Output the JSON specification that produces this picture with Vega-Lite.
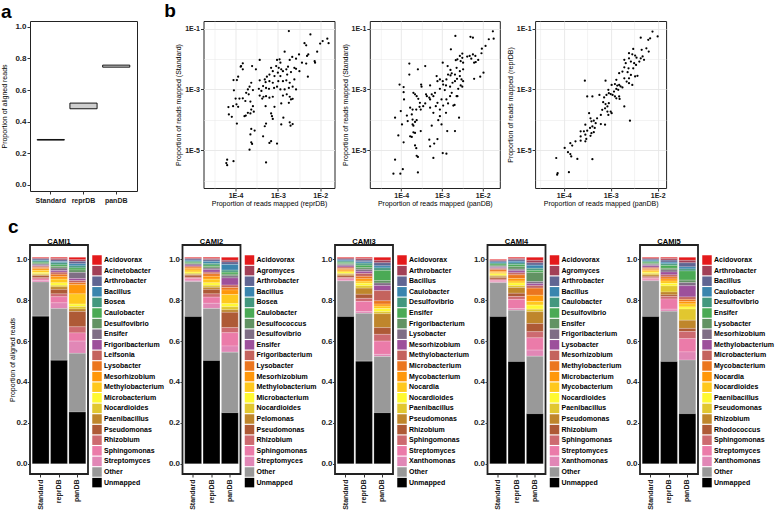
{
"$schema":"https://vega.github.io/schema/vega-lite/v6.json",
"background":"white",
"padding":{"left":0,"top":2,"right":0,"bottom":0},
"spacing":11,
"config":{
 "font":"Liberation Sans",
 "view":{"stroke":"#222","strokeWidth":1},
 "axis":{"labelFontSize":7,"labelFontWeight":"bold","labelColor":"#222","titleFontSize":7,"titleFontWeight":"normal","titleColor":"#000","tickColor":"#333","tickSize":3,"labelPadding":1,"titlePadding":3,"domain":false,"grid":false,"labelOverlap":false},
 "legend":{"title":null,"symbolType":"square","symbolSize":90,"symbolStrokeWidth":0,"labelFontSize":7,"labelFontWeight":"bold","labelColor":"#000","rowPadding":0.6,"offset":-6,"padding":10,"labelOffset":2,"labelLimit":200},
 "title":{"fontSize":19,"fontWeight":"bold","anchor":"start","frame":"bounds","offset":-0.5,"color":"#000"}
},
"datasets":{
 "box":[
  {"db":"Standard","q1":0.282,"med":0.284,"q3":0.286},
  {"db":"reprDB","q1":0.481,"med":0.490,"q3":0.517},
  {"db":"panDB","q1":0.745,"med":0.750,"q3":0.758}
 ],
 "b1":[
{"x":-2.74,"y":-1.08},{"x":-2.23,"y":-1.19},{"x":-1.83,"y":-1.33},{"x":-1.94,"y":-1.41},{"x":-1.80,"y":-1.48},{"x":-2.00,"y":-1.49},{"x":-2.37,"y":-1.48},{"x":-2.33,"y":-1.55},{"x":-2.07,"y":-1.76},{"x":-2.84,"y":-1.76},{"x":-2.50,"y":-1.85},{"x":-2.66,"y":-1.93},{"x":-2.72,"y":-2.03},{"x":-2.57,"y":-1.99},{"x":-2.43,"y":-2.12},{"x":-2.33,"y":-2.15},{"x":-2.31,"y":-1.90},{"x":-2.28,"y":-1.85},{"x":-2.13,"y":-2.07},{"x":-2.12,"y":-2.12},{"x":-3.02,"y":-2.03},{"x":-2.96,"y":-2.01},{"x":-2.94,"y":-2.12},{"x":-3.43,"y":-2.03},{"x":-3.83,"y":-2.14},{"x":-3.87,"y":-2.23},{"x":-3.83,"y":-2.34},{"x":-3.88,"y":-2.25},{"x":-3.61,"y":-2.23},{"x":-3.52,"y":-2.34},{"x":-3.16,"y":-2.29},{"x":-3.04,"y":-2.23},{"x":-2.98,"y":-2.29},{"x":-2.92,"y":-2.34},{"x":-2.88,"y":-2.40},{"x":-2.80,"y":-2.34},{"x":-2.76,"y":-2.25},{"x":-2.61,"y":-2.29},{"x":-2.57,"y":-2.32},{"x":-2.49,"y":-2.40},{"x":-3.12,"y":-2.40},{"x":-3.00,"y":-2.45},{"x":-2.94,"y":-2.56},{"x":-3.08,"y":-2.56},{"x":-3.20,"y":-2.51},{"x":-3.26,"y":-2.58},{"x":-2.69,"y":-2.43},{"x":-2.78,"y":-2.51},{"x":-2.29,"y":-2.58},{"x":-4.05,"y":-2.69},{"x":-3.94,"y":-2.58},{"x":-3.97,"y":-2.69},{"x":-3.43,"y":-2.70},{"x":-3.31,"y":-2.67},{"x":-3.29,"y":-2.76},{"x":-3.20,"y":-2.73},{"x":-3.12,"y":-2.78},{"x":-2.99,"y":-2.73},{"x":-2.88,"y":-2.73},{"x":-2.80,"y":-2.70},{"x":-2.72,"y":-2.78},{"x":-2.61,"y":-2.67},{"x":-3.63,"y":-2.78},{"x":-3.67,"y":-2.91},{"x":-3.71,"y":-3.00},{"x":-3.35,"y":-2.89},{"x":-3.28,"y":-2.95},{"x":-3.21,"y":-2.98},{"x":-3.09,"y":-2.95},{"x":-3.02,"y":-2.91},{"x":-2.94,"y":-3.00},{"x":-2.84,"y":-3.00},{"x":-2.74,"y":-2.95},{"x":-2.65,"y":-2.91},{"x":-2.57,"y":-3.00},{"x":-4.04,"y":-3.03},{"x":-4.00,"y":-3.30},{"x":-3.59,"y":-3.02},{"x":-3.45,"y":-2.98},{"x":-3.39,"y":-3.05},{"x":-3.75,"y":-3.11},{"x":-3.69,"y":-3.16},{"x":-3.83,"y":-3.29},{"x":-3.91,"y":-3.30},{"x":-3.77,"y":-3.38},{"x":-3.43,"y":-3.20},{"x":-3.34,"y":-3.24},{"x":-3.37,"y":-3.30},{"x":-3.28,"y":-3.22},{"x":-3.20,"y":-3.27},{"x":-3.12,"y":-3.24},{"x":-2.88,"y":-3.20},{"x":-2.79,"y":-3.16},{"x":-2.72,"y":-3.24},{"x":-2.69,"y":-3.33},{"x":-4.17,"y":-3.58},{"x":-4.06,"y":-3.55},{"x":-3.98,"y":-3.49},{"x":-3.94,"y":-3.57},{"x":-3.65,"y":-3.40},{"x":-3.59,"y":-3.55},{"x":-3.63,"y":-3.66},{"x":-3.65,"y":-3.79},{"x":-3.71,"y":-3.77},{"x":-3.76,"y":-3.86},{"x":-3.79,"y":-3.88},{"x":-3.57,"y":-3.73},{"x":-3.29,"y":-3.55},{"x":-3.08,"y":-3.57},{"x":-2.92,"y":-3.46},{"x":-2.74,"y":-3.44},{"x":-2.65,"y":-3.31},{"x":-4.16,"y":-3.82},{"x":-4.09,"y":-3.90},{"x":-3.97,"y":-4.12},{"x":-3.16,"y":-3.79},{"x":-3.14,"y":-3.88},{"x":-3.12,"y":-3.97},{"x":-2.87,"y":-3.93},{"x":-2.72,"y":-4.08},{"x":-2.65,"y":-4.14},{"x":-2.70,"y":-4.19},{"x":-2.92,"y":-4.15},{"x":-3.63,"y":-4.30},{"x":-3.55,"y":-4.35},{"x":-3.65,"y":-4.48},{"x":-3.28,"y":-4.12},{"x":-3.31,"y":-4.21},{"x":-3.35,"y":-4.54},{"x":-3.63,"y":-4.74},{"x":-3.61,"y":-4.79},{"x":-3.67,"y":-4.98},{"x":-3.20,"y":-4.76},{"x":-3.16,"y":-4.70},{"x":-3.02,"y":-4.78},{"x":-4.20,"y":-5.31},{"x":-4.22,"y":-5.42},{"x":-4.20,"y":-5.49},{"x":-4.05,"y":-5.36},{"x":-3.28,"y":-5.40}
 ],
 "b2":[
{"x":-1.75,"y":-1.09},{"x":-1.73,"y":-1.33},{"x":-1.85,"y":-1.35},{"x":-2.30,"y":-1.27},{"x":-2.24,"y":-1.30},{"x":-2.67,"y":-1.24},{"x":-1.93,"y":-1.57},{"x":-2.02,"y":-1.66},{"x":-2.03,"y":-1.81},{"x":-2.78,"y":-1.68},{"x":-2.50,"y":-1.82},{"x":-2.56,"y":-1.90},{"x":-2.50,"y":-1.96},{"x":-2.62,"y":-2.01},{"x":-2.66,"y":-2.04},{"x":-2.54,"y":-2.07},{"x":-2.48,"y":-2.12},{"x":-2.38,"y":-1.92},{"x":-2.32,"y":-1.90},{"x":-2.28,"y":-1.99},{"x":-2.24,"y":-1.85},{"x":-2.18,"y":-1.90},{"x":-2.21,"y":-2.12},{"x":-2.11,"y":-2.03},{"x":-2.17,"y":-2.10},{"x":-2.98,"y":-2.12},{"x":-2.86,"y":-2.23},{"x":-2.79,"y":-2.36},{"x":-2.76,"y":-2.47},{"x":-2.85,"y":-2.51},{"x":-2.89,"y":-2.67},{"x":-2.98,"y":-2.73},{"x":-3.05,"y":-2.67},{"x":-3.13,"y":-2.56},{"x":-3.11,"y":-2.73},{"x":-2.97,"y":-2.84},{"x":-3.05,"y":-2.98},{"x":-2.93,"y":-3.02},{"x":-2.90,"y":-2.87},{"x":-2.80,"y":-2.91},{"x":-2.74,"y":-2.78},{"x":-2.68,"y":-2.73},{"x":-2.63,"y":-2.65},{"x":-2.56,"y":-2.56},{"x":-2.52,"y":-2.67},{"x":-2.48,"y":-2.73},{"x":-2.54,"y":-2.87},{"x":-2.60,"y":-2.98},{"x":-2.62,"y":-3.22},{"x":-2.50,"y":-2.91},{"x":-3.80,"y":-2.15},{"x":-3.80,"y":-2.51},{"x":-3.59,"y":-2.34},{"x":-3.41,"y":-2.23},{"x":-1.98,"y":-2.45},{"x":-2.06,"y":-2.58},{"x":-2.21,"y":-2.65},{"x":-2.48,"y":-2.34},{"x":-2.56,"y":-2.40},{"x":-2.64,"y":-2.29},{"x":-2.68,"y":-2.51},{"x":-2.79,"y":-2.54},{"x":-4.04,"y":-2.84},{"x":-3.94,"y":-2.92},{"x":-3.93,"y":-3.33},{"x":-3.94,"y":-3.09},{"x":-4.01,"y":-3.71},{"x":-3.70,"y":-3.11},{"x":-3.66,"y":-3.16},{"x":-3.62,"y":-3.22},{"x":-3.51,"y":-2.84},{"x":-3.50,"y":-2.91},{"x":-3.58,"y":-3.31},{"x":-3.54,"y":-3.44},{"x":-3.55,"y":-3.57},{"x":-3.41,"y":-3.46},{"x":-3.37,"y":-3.22},{"x":-3.31,"y":-3.27},{"x":-3.29,"y":-3.33},{"x":-3.21,"y":-3.22},{"x":-3.25,"y":-3.16},{"x":-3.17,"y":-3.11},{"x":-3.29,"y":-2.87},{"x":-3.39,"y":-3.16},{"x":-3.78,"y":-3.60},{"x":-3.72,"y":-3.66},{"x":-3.74,"y":-3.82},{"x":-3.63,"y":-3.66},{"x":-3.52,"y":-3.66},{"x":-3.46,"y":-3.55},{"x":-3.29,"y":-3.60},{"x":-3.21,"y":-3.77},{"x":-3.15,"y":-3.55},{"x":-3.11,"y":-3.44},{"x":-3.05,"y":-3.66},{"x":-3.01,"y":-3.33},{"x":-2.97,"y":-3.53},{"x":-2.90,"y":-3.77},{"x":-2.89,"y":-3.33},{"x":-2.85,"y":-3.46},{"x":-2.80,"y":-3.22},{"x":-2.76,"y":-3.11},{"x":-2.64,"y":-3.22},{"x":-2.58,"y":-3.93},{"x":-2.72,"y":-3.53},{"x":-2.69,"y":-3.51},{"x":-3.05,"y":-3.88},{"x":-3.09,"y":-4.01},{"x":-4.15,"y":-3.93},{"x":-3.86,"y":-3.86},{"x":-3.84,"y":-4.04},{"x":-3.98,"y":-4.15},{"x":-4.07,"y":-4.51},{"x":-3.72,"y":-4.15},{"x":-3.70,"y":-4.19},{"x":-3.66,"y":-4.07},{"x":-3.62,"y":-4.01},{"x":-3.72,"y":-3.99},{"x":-3.94,"y":-4.74},{"x":-3.78,"y":-4.54},{"x":-3.74,"y":-4.56},{"x":-3.66,"y":-4.43},{"x":-3.70,"y":-4.41},{"x":-3.52,"y":-4.37},{"x":-3.25,"y":-4.19},{"x":-3.01,"y":-4.15},{"x":-2.87,"y":-4.37},{"x":-2.68,"y":-4.37},{"x":-3.11,"y":-4.63},{"x":-3.19,"y":-4.78},{"x":-2.98,"y":-5.09},{"x":-2.89,"y":-5.11},{"x":-3.21,"y":-5.25},{"x":-3.29,"y":-4.87},{"x":-3.31,"y":-4.65},{"x":-3.66,"y":-4.84},{"x":-3.63,"y":-4.93},{"x":-3.62,"y":-5.18},{"x":-3.59,"y":-5.22},{"x":-4.15,"y":-5.31},{"x":-3.96,"y":-5.62},{"x":-4.19,"y":-5.77},{"x":-4.02,"y":-5.77},{"x":-3.59,"y":-5.73}
 ],
 "b3":[
{"x":-2.11,"y":-1.09},{"x":-2.00,"y":-1.25},{"x":-2.16,"y":-1.31},{"x":-2.20,"y":-1.36},{"x":-2.36,"y":-1.29},{"x":-2.52,"y":-1.66},{"x":-2.24,"y":-1.64},{"x":-2.34,"y":-1.69},{"x":-2.19,"y":-1.75},{"x":-2.61,"y":-1.80},{"x":-2.54,"y":-1.84},{"x":-2.48,"y":-1.88},{"x":-2.45,"y":-1.95},{"x":-2.36,"y":-1.97},{"x":-2.32,"y":-1.91},{"x":-2.29,"y":-2.02},{"x":-2.39,"y":-2.08},{"x":-2.61,"y":-1.97},{"x":-2.71,"y":-2.02},{"x":-2.68,"y":-2.13},{"x":-2.57,"y":-2.08},{"x":-2.50,"y":-2.13},{"x":-2.46,"y":-2.19},{"x":-2.52,"y":-2.30},{"x":-2.62,"y":-2.30},{"x":-2.71,"y":-2.27},{"x":-2.75,"y":-2.41},{"x":-2.64,"y":-2.43},{"x":-2.57,"y":-2.52},{"x":-2.48,"y":-2.57},{"x":-2.43,"y":-2.55},{"x":-2.61,"y":-2.63},{"x":-2.66,"y":-2.74},{"x":-2.61,"y":-2.79},{"x":-2.54,"y":-2.85},{"x":-2.71,"y":-2.63},{"x":-2.82,"y":-2.46},{"x":-2.88,"y":-2.68},{"x":-3.11,"y":-2.71},{"x":-2.98,"y":-2.85},{"x":-2.91,"y":-2.82},{"x":-2.86,"y":-2.87},{"x":-2.82,"y":-2.85},{"x":-2.79,"y":-2.90},{"x":-2.75,"y":-2.93},{"x":-2.84,"y":-3.01},{"x":-2.88,"y":-2.98},{"x":-2.93,"y":-3.07},{"x":-2.96,"y":-3.18},{"x":-2.91,"y":-3.23},{"x":-2.82,"y":-3.23},{"x":-2.81,"y":-3.31},{"x":-2.88,"y":-3.29},{"x":-3.05,"y":-3.01},{"x":-3.04,"y":-3.12},{"x":-3.00,"y":-3.15},{"x":-3.09,"y":-3.18},{"x":-3.14,"y":-3.26},{"x":-3.16,"y":-3.42},{"x":-3.11,"y":-3.48},{"x":-3.04,"y":-3.45},{"x":-3.07,"y":-3.56},{"x":-3.12,"y":-3.62},{"x":-3.18,"y":-3.67},{"x":-3.07,"y":-3.73},{"x":-3.00,"y":-3.73},{"x":-2.98,"y":-3.78},{"x":-3.05,"y":-3.84},{"x":-3.55,"y":-2.71},{"x":-3.50,"y":-3.23},{"x":-3.39,"y":-3.23},{"x":-3.24,"y":-3.18},{"x":-2.71,"y":-3.56},{"x":-2.59,"y":-4.03},{"x":-3.21,"y":-3.84},{"x":-3.29,"y":-3.95},{"x":-3.36,"y":-4.03},{"x":-3.41,"y":-4.05},{"x":-3.32,"y":-4.11},{"x":-3.21,"y":-4.14},{"x":-3.12,"y":-4.16},{"x":-3.39,"y":-4.22},{"x":-3.44,"y":-4.27},{"x":-3.50,"y":-4.36},{"x":-3.57,"y":-4.38},{"x":-3.64,"y":-4.38},{"x":-3.54,"y":-4.49},{"x":-3.41,"y":-4.44},{"x":-3.36,"y":-4.41},{"x":-3.43,"y":-4.53},{"x":-3.52,"y":-4.63},{"x":-3.54,"y":-4.71},{"x":-3.64,"y":-4.69},{"x":-3.75,"y":-4.71},{"x":-3.86,"y":-4.77},{"x":-3.82,"y":-4.85},{"x":-3.98,"y":-4.93},{"x":-3.91,"y":-5.07},{"x":-3.86,"y":-5.13},{"x":-3.84,"y":-5.21},{"x":-3.71,"y":-5.29},{"x":-3.39,"y":-5.30},{"x":-4.16,"y":-5.26},{"x":-3.89,"y":-5.73},{"x":-4.13,"y":-5.76},{"x":-4.14,"y":-5.81},{"x":-3.46,"y":-3.78},{"x":-3.54,"y":-4.16},{"x":-3.64,"y":-4.55},{"x":-3.43,"y":-3.95},{"x":-3.34,"y":-4.27}
 ],
 "bars":[
{"p":"CAMI1","g":"Acidovorax","k":1,"db":"Standard","v":0.004},{"p":"CAMI1","g":"Acidovorax","k":1,"db":"reprDB","v":0.006},{"p":"CAMI1","g":"Acidovorax","k":1,"db":"panDB","v":0.012},
{"p":"CAMI1","g":"Acinetobacter","k":2,"db":"Standard","v":0.004},{"p":"CAMI1","g":"Acinetobacter","k":2,"db":"reprDB","v":0.007},{"p":"CAMI1","g":"Acinetobacter","k":2,"db":"panDB","v":0.008},
{"p":"CAMI1","g":"Arthrobacter","k":3,"db":"Standard","v":0.006},{"p":"CAMI1","g":"Arthrobacter","k":3,"db":"reprDB","v":0.008},{"p":"CAMI1","g":"Arthrobacter","k":3,"db":"panDB","v":0.012},
{"p":"CAMI1","g":"Bacillus","k":4,"db":"Standard","v":0.004},{"p":"CAMI1","g":"Bacillus","k":4,"db":"reprDB","v":0.006},{"p":"CAMI1","g":"Bacillus","k":4,"db":"panDB","v":0.010},
{"p":"CAMI1","g":"Bosea","k":5,"db":"Standard","v":0.006},{"p":"CAMI1","g":"Bosea","k":5,"db":"reprDB","v":0.010},{"p":"CAMI1","g":"Bosea","k":5,"db":"panDB","v":0.010},
{"p":"CAMI1","g":"Caulobacter","k":6,"db":"Standard","v":0.005},{"p":"CAMI1","g":"Caulobacter","k":6,"db":"reprDB","v":0.008},{"p":"CAMI1","g":"Caulobacter","k":6,"db":"panDB","v":0.010},
{"p":"CAMI1","g":"Desulfovibrio","k":7,"db":"Standard","v":0.005},{"p":"CAMI1","g":"Desulfovibrio","k":7,"db":"reprDB","v":0.008},{"p":"CAMI1","g":"Desulfovibrio","k":7,"db":"panDB","v":0.012},
{"p":"CAMI1","g":"Ensifer","k":8,"db":"Standard","v":0.006},{"p":"CAMI1","g":"Ensifer","k":8,"db":"reprDB","v":0.012},{"p":"CAMI1","g":"Ensifer","k":8,"db":"panDB","v":0.030},
{"p":"CAMI1","g":"Frigoribacterium","k":9,"db":"Standard","v":0.004},{"p":"CAMI1","g":"Frigoribacterium","k":9,"db":"reprDB","v":0.008},{"p":"CAMI1","g":"Frigoribacterium","k":9,"db":"panDB","v":0.010},
{"p":"CAMI1","g":"Leifsonia","k":10,"db":"Standard","v":0.006},{"p":"CAMI1","g":"Leifsonia","k":10,"db":"reprDB","v":0.010},{"p":"CAMI1","g":"Leifsonia","k":10,"db":"panDB","v":0.010},
{"p":"CAMI1","g":"Lysobacter","k":11,"db":"Standard","v":0.006},{"p":"CAMI1","g":"Lysobacter","k":11,"db":"reprDB","v":0.012},{"p":"CAMI1","g":"Lysobacter","k":11,"db":"panDB","v":0.010},
{"p":"CAMI1","g":"Mesorhizobium","k":12,"db":"Standard","v":0.008},{"p":"CAMI1","g":"Mesorhizobium","k":12,"db":"reprDB","v":0.012},{"p":"CAMI1","g":"Mesorhizobium","k":12,"db":"panDB","v":0.045},
{"p":"CAMI1","g":"Methylobacterium","k":13,"db":"Standard","v":0.010},{"p":"CAMI1","g":"Methylobacterium","k":13,"db":"reprDB","v":0.018},{"p":"CAMI1","g":"Methylobacterium","k":13,"db":"panDB","v":0.050},
{"p":"CAMI1","g":"Microbacterium","k":14,"db":"Standard","v":0.006},{"p":"CAMI1","g":"Microbacterium","k":14,"db":"reprDB","v":0.012},{"p":"CAMI1","g":"Microbacterium","k":14,"db":"panDB","v":0.012},
{"p":"CAMI1","g":"Nocardioides","k":15,"db":"Standard","v":0.006},{"p":"CAMI1","g":"Nocardioides","k":15,"db":"reprDB","v":0.008},{"p":"CAMI1","g":"Nocardioides","k":15,"db":"panDB","v":0.012},
{"p":"CAMI1","g":"Paenibacillus","k":16,"db":"Standard","v":0.004},{"p":"CAMI1","g":"Paenibacillus","k":16,"db":"reprDB","v":0.012},{"p":"CAMI1","g":"Paenibacillus","k":16,"db":"panDB","v":0.012},
{"p":"CAMI1","g":"Pseudomonas","k":17,"db":"Standard","v":0.010},{"p":"CAMI1","g":"Pseudomonas","k":17,"db":"reprDB","v":0.022},{"p":"CAMI1","g":"Pseudomonas","k":17,"db":"panDB","v":0.075},
{"p":"CAMI1","g":"Rhizobium","k":18,"db":"Standard","v":0.006},{"p":"CAMI1","g":"Rhizobium","k":18,"db":"reprDB","v":0.014},{"p":"CAMI1","g":"Rhizobium","k":18,"db":"panDB","v":0.030},
{"p":"CAMI1","g":"Sphingomonas","k":19,"db":"Standard","v":0.008},{"p":"CAMI1","g":"Sphingomonas","k":19,"db":"reprDB","v":0.030},{"p":"CAMI1","g":"Sphingomonas","k":19,"db":"panDB","v":0.040},
{"p":"CAMI1","g":"Streptomyces","k":20,"db":"Standard","v":0.007},{"p":"CAMI1","g":"Streptomyces","k":20,"db":"reprDB","v":0.028},{"p":"CAMI1","g":"Streptomyces","k":20,"db":"panDB","v":0.060},
{"p":"CAMI1","g":"Other","k":21,"db":"Standard","v":0.167},{"p":"CAMI1","g":"Other","k":21,"db":"reprDB","v":0.253},{"p":"CAMI1","g":"Other","k":21,"db":"panDB","v":0.287},
{"p":"CAMI1","g":"Unmapped","k":22,"db":"Standard","v":0.722},{"p":"CAMI1","g":"Unmapped","k":22,"db":"reprDB","v":0.506},{"p":"CAMI1","g":"Unmapped","k":22,"db":"panDB","v":0.253},

{"p":"CAMI2","g":"Acidovorax","k":1,"db":"Standard","v":0.004},{"p":"CAMI2","g":"Acidovorax","k":1,"db":"reprDB","v":0.006},{"p":"CAMI2","g":"Acidovorax","k":1,"db":"panDB","v":0.015},
{"p":"CAMI2","g":"Agromyces","k":2,"db":"Standard","v":0.004},{"p":"CAMI2","g":"Agromyces","k":2,"db":"reprDB","v":0.006},{"p":"CAMI2","g":"Agromyces","k":2,"db":"panDB","v":0.008},
{"p":"CAMI2","g":"Arthrobacter","k":3,"db":"Standard","v":0.006},{"p":"CAMI2","g":"Arthrobacter","k":3,"db":"reprDB","v":0.008},{"p":"CAMI2","g":"Arthrobacter","k":3,"db":"panDB","v":0.012},
{"p":"CAMI2","g":"Bacillus","k":4,"db":"Standard","v":0.005},{"p":"CAMI2","g":"Bacillus","k":4,"db":"reprDB","v":0.010},{"p":"CAMI2","g":"Bacillus","k":4,"db":"panDB","v":0.028},
{"p":"CAMI2","g":"Bosea","k":5,"db":"Standard","v":0.005},{"p":"CAMI2","g":"Bosea","k":5,"db":"reprDB","v":0.008},{"p":"CAMI2","g":"Bosea","k":5,"db":"panDB","v":0.010},
{"p":"CAMI2","g":"Caulobacter","k":6,"db":"Standard","v":0.005},{"p":"CAMI2","g":"Caulobacter","k":6,"db":"reprDB","v":0.008},{"p":"CAMI2","g":"Caulobacter","k":6,"db":"panDB","v":0.010},
{"p":"CAMI2","g":"Desulfococcus","k":7,"db":"Standard","v":0.004},{"p":"CAMI2","g":"Desulfococcus","k":7,"db":"reprDB","v":0.007},{"p":"CAMI2","g":"Desulfococcus","k":7,"db":"panDB","v":0.008},
{"p":"CAMI2","g":"Desulfovibrio","k":8,"db":"Standard","v":0.005},{"p":"CAMI2","g":"Desulfovibrio","k":8,"db":"reprDB","v":0.008},{"p":"CAMI2","g":"Desulfovibrio","k":8,"db":"panDB","v":0.010},
{"p":"CAMI2","g":"Ensifer","k":9,"db":"Standard","v":0.005},{"p":"CAMI2","g":"Ensifer","k":9,"db":"reprDB","v":0.012},{"p":"CAMI2","g":"Ensifer","k":9,"db":"panDB","v":0.035},
{"p":"CAMI2","g":"Frigoribacterium","k":10,"db":"Standard","v":0.005},{"p":"CAMI2","g":"Frigoribacterium","k":10,"db":"reprDB","v":0.008},{"p":"CAMI2","g":"Frigoribacterium","k":10,"db":"panDB","v":0.012},
{"p":"CAMI2","g":"Lysobacter","k":11,"db":"Standard","v":0.006},{"p":"CAMI2","g":"Lysobacter","k":11,"db":"reprDB","v":0.012},{"p":"CAMI2","g":"Lysobacter","k":11,"db":"panDB","v":0.012},
{"p":"CAMI2","g":"Mesorhizobium","k":12,"db":"Standard","v":0.008},{"p":"CAMI2","g":"Mesorhizobium","k":12,"db":"reprDB","v":0.014},{"p":"CAMI2","g":"Mesorhizobium","k":12,"db":"panDB","v":0.022},
{"p":"CAMI2","g":"Methylobacterium","k":13,"db":"Standard","v":0.010},{"p":"CAMI2","g":"Methylobacterium","k":13,"db":"reprDB","v":0.018},{"p":"CAMI2","g":"Methylobacterium","k":13,"db":"panDB","v":0.045},
{"p":"CAMI2","g":"Microbacterium","k":14,"db":"Standard","v":0.006},{"p":"CAMI2","g":"Microbacterium","k":14,"db":"reprDB","v":0.012},{"p":"CAMI2","g":"Microbacterium","k":14,"db":"panDB","v":0.015},
{"p":"CAMI2","g":"Nocardioides","k":15,"db":"Standard","v":0.006},{"p":"CAMI2","g":"Nocardioides","k":15,"db":"reprDB","v":0.010},{"p":"CAMI2","g":"Nocardioides","k":15,"db":"panDB","v":0.015},
{"p":"CAMI2","g":"Pelomonas","k":16,"db":"Standard","v":0.004},{"p":"CAMI2","g":"Pelomonas","k":16,"db":"reprDB","v":0.010},{"p":"CAMI2","g":"Pelomonas","k":16,"db":"panDB","v":0.012},
{"p":"CAMI2","g":"Pseudomonas","k":17,"db":"Standard","v":0.010},{"p":"CAMI2","g":"Pseudomonas","k":17,"db":"reprDB","v":0.022},{"p":"CAMI2","g":"Pseudomonas","k":17,"db":"panDB","v":0.075},
{"p":"CAMI2","g":"Rhizobium","k":18,"db":"Standard","v":0.006},{"p":"CAMI2","g":"Rhizobium","k":18,"db":"reprDB","v":0.016},{"p":"CAMI2","g":"Rhizobium","k":18,"db":"panDB","v":0.025},
{"p":"CAMI2","g":"Sphingomonas","k":19,"db":"Standard","v":0.008},{"p":"CAMI2","g":"Sphingomonas","k":19,"db":"reprDB","v":0.030},{"p":"CAMI2","g":"Sphingomonas","k":19,"db":"panDB","v":0.065},
{"p":"CAMI2","g":"Streptomyces","k":20,"db":"Standard","v":0.007},{"p":"CAMI2","g":"Streptomyces","k":20,"db":"reprDB","v":0.025},{"p":"CAMI2","g":"Streptomyces","k":20,"db":"panDB","v":0.030},
{"p":"CAMI2","g":"Other","k":21,"db":"Standard","v":0.171},{"p":"CAMI2","g":"Other","k":21,"db":"reprDB","v":0.255},{"p":"CAMI2","g":"Other","k":21,"db":"panDB","v":0.296},
{"p":"CAMI2","g":"Unmapped","k":22,"db":"Standard","v":0.720},{"p":"CAMI2","g":"Unmapped","k":22,"db":"reprDB","v":0.505},{"p":"CAMI2","g":"Unmapped","k":22,"db":"panDB","v":0.250},

{"p":"CAMI3","g":"Acidovorax","k":1,"db":"Standard","v":0.004},{"p":"CAMI3","g":"Acidovorax","k":1,"db":"reprDB","v":0.006},{"p":"CAMI3","g":"Acidovorax","k":1,"db":"panDB","v":0.015},
{"p":"CAMI3","g":"Arthrobacter","k":2,"db":"Standard","v":0.005},{"p":"CAMI3","g":"Arthrobacter","k":2,"db":"reprDB","v":0.008},{"p":"CAMI3","g":"Arthrobacter","k":2,"db":"panDB","v":0.012},
{"p":"CAMI3","g":"Bacillus","k":3,"db":"Standard","v":0.005},{"p":"CAMI3","g":"Bacillus","k":3,"db":"reprDB","v":0.008},{"p":"CAMI3","g":"Bacillus","k":3,"db":"panDB","v":0.015},
{"p":"CAMI3","g":"Caulobacter","k":4,"db":"Standard","v":0.005},{"p":"CAMI3","g":"Caulobacter","k":4,"db":"reprDB","v":0.007},{"p":"CAMI3","g":"Caulobacter","k":4,"db":"panDB","v":0.010},
{"p":"CAMI3","g":"Desulfovibrio","k":5,"db":"Standard","v":0.006},{"p":"CAMI3","g":"Desulfovibrio","k":5,"db":"reprDB","v":0.010},{"p":"CAMI3","g":"Desulfovibrio","k":5,"db":"panDB","v":0.012},
{"p":"CAMI3","g":"Ensifer","k":6,"db":"Standard","v":0.006},{"p":"CAMI3","g":"Ensifer","k":6,"db":"reprDB","v":0.012},{"p":"CAMI3","g":"Ensifer","k":6,"db":"panDB","v":0.050},
{"p":"CAMI3","g":"Frigoribacterium","k":7,"db":"Standard","v":0.005},{"p":"CAMI3","g":"Frigoribacterium","k":7,"db":"reprDB","v":0.008},{"p":"CAMI3","g":"Frigoribacterium","k":7,"db":"panDB","v":0.012},
{"p":"CAMI3","g":"Lysobacter","k":8,"db":"Standard","v":0.006},{"p":"CAMI3","g":"Lysobacter","k":8,"db":"reprDB","v":0.010},{"p":"CAMI3","g":"Lysobacter","k":8,"db":"panDB","v":0.012},
{"p":"CAMI3","g":"Mesorhizobium","k":9,"db":"Standard","v":0.006},{"p":"CAMI3","g":"Mesorhizobium","k":9,"db":"reprDB","v":0.010},{"p":"CAMI3","g":"Mesorhizobium","k":9,"db":"panDB","v":0.025},
{"p":"CAMI3","g":"Methylobacterium","k":10,"db":"Standard","v":0.007},{"p":"CAMI3","g":"Methylobacterium","k":10,"db":"reprDB","v":0.014},{"p":"CAMI3","g":"Methylobacterium","k":10,"db":"panDB","v":0.050},
{"p":"CAMI3","g":"Microbacterium","k":11,"db":"Standard","v":0.006},{"p":"CAMI3","g":"Microbacterium","k":11,"db":"reprDB","v":0.012},{"p":"CAMI3","g":"Microbacterium","k":11,"db":"panDB","v":0.016},
{"p":"CAMI3","g":"Mycobacterium","k":12,"db":"Standard","v":0.006},{"p":"CAMI3","g":"Mycobacterium","k":12,"db":"reprDB","v":0.012},{"p":"CAMI3","g":"Mycobacterium","k":12,"db":"panDB","v":0.010},
{"p":"CAMI3","g":"Nocardia","k":13,"db":"Standard","v":0.005},{"p":"CAMI3","g":"Nocardia","k":13,"db":"reprDB","v":0.010},{"p":"CAMI3","g":"Nocardia","k":13,"db":"panDB","v":0.012},
{"p":"CAMI3","g":"Nocardioides","k":14,"db":"Standard","v":0.007},{"p":"CAMI3","g":"Nocardioides","k":14,"db":"reprDB","v":0.012},{"p":"CAMI3","g":"Nocardioides","k":14,"db":"panDB","v":0.015},
{"p":"CAMI3","g":"Paenibacillus","k":15,"db":"Standard","v":0.005},{"p":"CAMI3","g":"Paenibacillus","k":15,"db":"reprDB","v":0.012},{"p":"CAMI3","g":"Paenibacillus","k":15,"db":"panDB","v":0.010},
{"p":"CAMI3","g":"Pseudomonas","k":16,"db":"Standard","v":0.007},{"p":"CAMI3","g":"Pseudomonas","k":16,"db":"reprDB","v":0.030},{"p":"CAMI3","g":"Pseudomonas","k":16,"db":"panDB","v":0.068},
{"p":"CAMI3","g":"Rhizobium","k":17,"db":"Standard","v":0.008},{"p":"CAMI3","g":"Rhizobium","k":17,"db":"reprDB","v":0.020},{"p":"CAMI3","g":"Rhizobium","k":17,"db":"panDB","v":0.033},
{"p":"CAMI3","g":"Sphingomonas","k":18,"db":"Standard","v":0.006},{"p":"CAMI3","g":"Sphingomonas","k":18,"db":"reprDB","v":0.015},{"p":"CAMI3","g":"Sphingomonas","k":18,"db":"panDB","v":0.033},
{"p":"CAMI3","g":"Streptomyces","k":19,"db":"Standard","v":0.007},{"p":"CAMI3","g":"Streptomyces","k":19,"db":"reprDB","v":0.050},{"p":"CAMI3","g":"Streptomyces","k":19,"db":"panDB","v":0.065},
{"p":"CAMI3","g":"Xanthomonas","k":20,"db":"Standard","v":0.004},{"p":"CAMI3","g":"Xanthomonas","k":20,"db":"reprDB","v":0.008},{"p":"CAMI3","g":"Xanthomonas","k":20,"db":"panDB","v":0.010},
{"p":"CAMI3","g":"Other","k":21,"db":"Standard","v":0.174},{"p":"CAMI3","g":"Other","k":21,"db":"reprDB","v":0.234},{"p":"CAMI3","g":"Other","k":21,"db":"panDB","v":0.275},
{"p":"CAMI3","g":"Unmapped","k":22,"db":"Standard","v":0.720},{"p":"CAMI3","g":"Unmapped","k":22,"db":"reprDB","v":0.502},{"p":"CAMI3","g":"Unmapped","k":22,"db":"panDB","v":0.250},

{"p":"CAMI4","g":"Acidovorax","k":1,"db":"Standard","v":0.004},{"p":"CAMI4","g":"Acidovorax","k":1,"db":"reprDB","v":0.006},{"p":"CAMI4","g":"Acidovorax","k":1,"db":"panDB","v":0.015},
{"p":"CAMI4","g":"Agromyces","k":2,"db":"Standard","v":0.004},{"p":"CAMI4","g":"Agromyces","k":2,"db":"reprDB","v":0.006},{"p":"CAMI4","g":"Agromyces","k":2,"db":"panDB","v":0.012},
{"p":"CAMI4","g":"Arthrobacter","k":3,"db":"Standard","v":0.005},{"p":"CAMI4","g":"Arthrobacter","k":3,"db":"reprDB","v":0.008},{"p":"CAMI4","g":"Arthrobacter","k":3,"db":"panDB","v":0.012},
{"p":"CAMI4","g":"Bacillus","k":4,"db":"Standard","v":0.005},{"p":"CAMI4","g":"Bacillus","k":4,"db":"reprDB","v":0.008},{"p":"CAMI4","g":"Bacillus","k":4,"db":"panDB","v":0.015},
{"p":"CAMI4","g":"Caulobacter","k":5,"db":"Standard","v":0.005},{"p":"CAMI4","g":"Caulobacter","k":5,"db":"reprDB","v":0.008},{"p":"CAMI4","g":"Caulobacter","k":5,"db":"panDB","v":0.010},
{"p":"CAMI4","g":"Desulfovibrio","k":6,"db":"Standard","v":0.006},{"p":"CAMI4","g":"Desulfovibrio","k":6,"db":"reprDB","v":0.010},{"p":"CAMI4","g":"Desulfovibrio","k":6,"db":"panDB","v":0.010},
{"p":"CAMI4","g":"Ensifer","k":7,"db":"Standard","v":0.006},{"p":"CAMI4","g":"Ensifer","k":7,"db":"reprDB","v":0.012},{"p":"CAMI4","g":"Ensifer","k":7,"db":"panDB","v":0.045},
{"p":"CAMI4","g":"Frigoribacterium","k":8,"db":"Standard","v":0.005},{"p":"CAMI4","g":"Frigoribacterium","k":8,"db":"reprDB","v":0.008},{"p":"CAMI4","g":"Frigoribacterium","k":8,"db":"panDB","v":0.010},
{"p":"CAMI4","g":"Lysobacter","k":9,"db":"Standard","v":0.005},{"p":"CAMI4","g":"Lysobacter","k":9,"db":"reprDB","v":0.010},{"p":"CAMI4","g":"Lysobacter","k":9,"db":"panDB","v":0.010},
{"p":"CAMI4","g":"Mesorhizobium","k":10,"db":"Standard","v":0.006},{"p":"CAMI4","g":"Mesorhizobium","k":10,"db":"reprDB","v":0.010},{"p":"CAMI4","g":"Mesorhizobium","k":10,"db":"panDB","v":0.012},
{"p":"CAMI4","g":"Methylobacterium","k":11,"db":"Standard","v":0.008},{"p":"CAMI4","g":"Methylobacterium","k":11,"db":"reprDB","v":0.018},{"p":"CAMI4","g":"Methylobacterium","k":11,"db":"panDB","v":0.035},
{"p":"CAMI4","g":"Microbacterium","k":12,"db":"Standard","v":0.006},{"p":"CAMI4","g":"Microbacterium","k":12,"db":"reprDB","v":0.012},{"p":"CAMI4","g":"Microbacterium","k":12,"db":"panDB","v":0.030},
{"p":"CAMI4","g":"Mycobacterium","k":13,"db":"Standard","v":0.006},{"p":"CAMI4","g":"Mycobacterium","k":13,"db":"reprDB","v":0.010},{"p":"CAMI4","g":"Mycobacterium","k":13,"db":"panDB","v":0.018},
{"p":"CAMI4","g":"Nocardioides","k":14,"db":"Standard","v":0.007},{"p":"CAMI4","g":"Nocardioides","k":14,"db":"reprDB","v":0.012},{"p":"CAMI4","g":"Nocardioides","k":14,"db":"panDB","v":0.020},
{"p":"CAMI4","g":"Paenibacillus","k":15,"db":"Standard","v":0.005},{"p":"CAMI4","g":"Paenibacillus","k":15,"db":"reprDB","v":0.010},{"p":"CAMI4","g":"Paenibacillus","k":15,"db":"panDB","v":0.012},
{"p":"CAMI4","g":"Pseudomonas","k":16,"db":"Standard","v":0.007},{"p":"CAMI4","g":"Pseudomonas","k":16,"db":"reprDB","v":0.028},{"p":"CAMI4","g":"Pseudomonas","k":16,"db":"panDB","v":0.058},
{"p":"CAMI4","g":"Rhizobium","k":17,"db":"Standard","v":0.007},{"p":"CAMI4","g":"Rhizobium","k":17,"db":"reprDB","v":0.016},{"p":"CAMI4","g":"Rhizobium","k":17,"db":"panDB","v":0.040},
{"p":"CAMI4","g":"Sphingomonas","k":18,"db":"Standard","v":0.006},{"p":"CAMI4","g":"Sphingomonas","k":18,"db":"reprDB","v":0.014},{"p":"CAMI4","g":"Sphingomonas","k":18,"db":"panDB","v":0.030},
{"p":"CAMI4","g":"Streptomyces","k":19,"db":"Standard","v":0.007},{"p":"CAMI4","g":"Streptomyces","k":19,"db":"reprDB","v":0.045},{"p":"CAMI4","g":"Streptomyces","k":19,"db":"panDB","v":0.060},
{"p":"CAMI4","g":"Xanthomonas","k":20,"db":"Standard","v":0.004},{"p":"CAMI4","g":"Xanthomonas","k":20,"db":"reprDB","v":0.008},{"p":"CAMI4","g":"Xanthomonas","k":20,"db":"panDB","v":0.030},
{"p":"CAMI4","g":"Other","k":21,"db":"Standard","v":0.166},{"p":"CAMI4","g":"Other","k":21,"db":"reprDB","v":0.251},{"p":"CAMI4","g":"Other","k":21,"db":"panDB","v":0.281},
{"p":"CAMI4","g":"Unmapped","k":22,"db":"Standard","v":0.720},{"p":"CAMI4","g":"Unmapped","k":22,"db":"reprDB","v":0.500},{"p":"CAMI4","g":"Unmapped","k":22,"db":"panDB","v":0.245},

{"p":"CAMI5","g":"Acidovorax","k":1,"db":"Standard","v":0.004},{"p":"CAMI5","g":"Acidovorax","k":1,"db":"reprDB","v":0.006},{"p":"CAMI5","g":"Acidovorax","k":1,"db":"panDB","v":0.015},
{"p":"CAMI5","g":"Arthrobacter","k":2,"db":"Standard","v":0.005},{"p":"CAMI5","g":"Arthrobacter","k":2,"db":"reprDB","v":0.008},{"p":"CAMI5","g":"Arthrobacter","k":2,"db":"panDB","v":0.012},
{"p":"CAMI5","g":"Bacillus","k":3,"db":"Standard","v":0.005},{"p":"CAMI5","g":"Bacillus","k":3,"db":"reprDB","v":0.010},{"p":"CAMI5","g":"Bacillus","k":3,"db":"panDB","v":0.020},
{"p":"CAMI5","g":"Caulobacter","k":4,"db":"Standard","v":0.005},{"p":"CAMI5","g":"Caulobacter","k":4,"db":"reprDB","v":0.008},{"p":"CAMI5","g":"Caulobacter","k":4,"db":"panDB","v":0.010},
{"p":"CAMI5","g":"Desulfovibrio","k":5,"db":"Standard","v":0.005},{"p":"CAMI5","g":"Desulfovibrio","k":5,"db":"reprDB","v":0.008},{"p":"CAMI5","g":"Desulfovibrio","k":5,"db":"panDB","v":0.010},
{"p":"CAMI5","g":"Ensifer","k":6,"db":"Standard","v":0.006},{"p":"CAMI5","g":"Ensifer","k":6,"db":"reprDB","v":0.014},{"p":"CAMI5","g":"Ensifer","k":6,"db":"panDB","v":0.045},
{"p":"CAMI5","g":"Lysobacter","k":7,"db":"Standard","v":0.005},{"p":"CAMI5","g":"Lysobacter","k":7,"db":"reprDB","v":0.008},{"p":"CAMI5","g":"Lysobacter","k":7,"db":"panDB","v":0.012},
{"p":"CAMI5","g":"Mesorhizobium","k":8,"db":"Standard","v":0.006},{"p":"CAMI5","g":"Mesorhizobium","k":8,"db":"reprDB","v":0.010},{"p":"CAMI5","g":"Mesorhizobium","k":8,"db":"panDB","v":0.015},
{"p":"CAMI5","g":"Methylobacterium","k":9,"db":"Standard","v":0.008},{"p":"CAMI5","g":"Methylobacterium","k":9,"db":"reprDB","v":0.014},{"p":"CAMI5","g":"Methylobacterium","k":9,"db":"panDB","v":0.055},
{"p":"CAMI5","g":"Microbacterium","k":10,"db":"Standard","v":0.006},{"p":"CAMI5","g":"Microbacterium","k":10,"db":"reprDB","v":0.010},{"p":"CAMI5","g":"Microbacterium","k":10,"db":"panDB","v":0.012},
{"p":"CAMI5","g":"Mycobacterium","k":11,"db":"Standard","v":0.006},{"p":"CAMI5","g":"Mycobacterium","k":11,"db":"reprDB","v":0.010},{"p":"CAMI5","g":"Mycobacterium","k":11,"db":"panDB","v":0.010},
{"p":"CAMI5","g":"Nocardia","k":12,"db":"Standard","v":0.005},{"p":"CAMI5","g":"Nocardia","k":12,"db":"reprDB","v":0.010},{"p":"CAMI5","g":"Nocardia","k":12,"db":"panDB","v":0.012},
{"p":"CAMI5","g":"Nocardioides","k":13,"db":"Standard","v":0.007},{"p":"CAMI5","g":"Nocardioides","k":13,"db":"reprDB","v":0.012},{"p":"CAMI5","g":"Nocardioides","k":13,"db":"panDB","v":0.015},
{"p":"CAMI5","g":"Paenibacillus","k":14,"db":"Standard","v":0.006},{"p":"CAMI5","g":"Paenibacillus","k":14,"db":"reprDB","v":0.012},{"p":"CAMI5","g":"Paenibacillus","k":14,"db":"panDB","v":0.010},
{"p":"CAMI5","g":"Pseudomonas","k":15,"db":"Standard","v":0.007},{"p":"CAMI5","g":"Pseudomonas","k":15,"db":"reprDB","v":0.030},{"p":"CAMI5","g":"Pseudomonas","k":15,"db":"panDB","v":0.055},
{"p":"CAMI5","g":"Rhizobium","k":16,"db":"Standard","v":0.007},{"p":"CAMI5","g":"Rhizobium","k":16,"db":"reprDB","v":0.014},{"p":"CAMI5","g":"Rhizobium","k":16,"db":"panDB","v":0.040},
{"p":"CAMI5","g":"Rhodococcus","k":17,"db":"Standard","v":0.005},{"p":"CAMI5","g":"Rhodococcus","k":17,"db":"reprDB","v":0.008},{"p":"CAMI5","g":"Rhodococcus","k":17,"db":"panDB","v":0.015},
{"p":"CAMI5","g":"Sphingomonas","k":18,"db":"Standard","v":0.006},{"p":"CAMI5","g":"Sphingomonas","k":18,"db":"reprDB","v":0.012},{"p":"CAMI5","g":"Sphingomonas","k":18,"db":"panDB","v":0.035},
{"p":"CAMI5","g":"Streptomyces","k":19,"db":"Standard","v":0.007},{"p":"CAMI5","g":"Streptomyces","k":19,"db":"reprDB","v":0.050},{"p":"CAMI5","g":"Streptomyces","k":19,"db":"panDB","v":0.065},
{"p":"CAMI5","g":"Xanthomonas","k":20,"db":"Standard","v":0.004},{"p":"CAMI5","g":"Xanthomonas","k":20,"db":"reprDB","v":0.010},{"p":"CAMI5","g":"Xanthomonas","k":20,"db":"panDB","v":0.040},
{"p":"CAMI5","g":"Other","k":21,"db":"Standard","v":0.175},{"p":"CAMI5","g":"Other","k":21,"db":"reprDB","v":0.246},{"p":"CAMI5","g":"Other","k":21,"db":"panDB","v":0.262},
{"p":"CAMI5","g":"Unmapped","k":22,"db":"Standard","v":0.720},{"p":"CAMI5","g":"Unmapped","k":22,"db":"reprDB","v":0.500},{"p":"CAMI5","g":"Unmapped","k":22,"db":"panDB","v":0.245}
 ]
},
"vconcat":[
 {"hconcat":[
  {"title":{"text":"a"},
   "width":107,"height":170,
   "data":{"name":"box"},
   "mark":{"type":"bar","fill":"#cfcfcf","stroke":"#000","strokeWidth":0.9},
   "encoding":{
    "x":{"field":"db","type":"nominal","sort":["Standard","reprDB","panDB"],"scale":{"paddingInner":0.17,"paddingOuter":0.22},"axis":{"title":null,"labelAngle":0,"labelPadding":2}},
    "y":{"field":"q1","type":"quantitative","scale":{"domain":[-0.041,1.038],"nice":false,"zero":false},"axis":{"title":"Proportion of aligned reads","titlePadding":7,"labelFontSize":8,"labelOverlap":false,"labelSeparation":0,"labelBound":false,"labelFlush":false,"labelLineHeight":8,"labelBaseline":"middle","labelAngle":0,"values":[0,0.2,0.4,0.6,0.8,1],"format":".1f"}},
    "y2":{"field":"q3"}
   }
  },
  {"title":{"text":"b","dx":-10},
   "spacing":4.3,
   "hconcat":[
    {"width":131,"height":167,"data":{"name":"b1"},
     "mark":{"type":"circle","size":5,"color":"#000","opacity":1},
     "encoding":{
      "x":{"field":"x","type":"quantitative","scale":{"domain":[-4.76,-1.66],"nice":false,"zero":false},
        "axis":{"title":"Proportion of reads mapped (reprDB)","labelPadding":0,"titlePadding":1,"values":[-4.5,-4,-3.5,-3,-2.5,-2],"labelExpr":"datum.value % 1 == 0 ? '1E' + datum.value : ''","grid":true,"gridColor":"#e6e6e6","gridWidth":{"condition":{"test":"datum.value % 1 != 0","value":0.5},"value":0.9},"tickOpacity":{"condition":{"test":"datum.value % 1 != 0","value":0},"value":1}}},
      "y":{"field":"y","type":"quantitative","scale":{"domain":[-6.24,-0.75],"nice":false,"zero":false},
        "axis":{"title":"Proportion of reads mapped (Standard)","values":[-6,-5,-4,-3,-2,-1],"labelExpr":"datum.value % 2 != 0 ? '1E' + datum.value : ''","grid":true,"gridColor":"#e6e6e6","gridWidth":{"condition":{"test":"datum.value % 2 == 0","value":0.5},"value":0.9},"tickOpacity":{"condition":{"test":"datum.value % 2 == 0","value":0},"value":1}}}
     }},
    {"width":130,"height":167,"data":{"name":"b2"},
     "mark":{"type":"circle","size":5,"color":"#000","opacity":1},
     "encoding":{
      "x":{"field":"x","type":"quantitative","scale":{"domain":[-4.77,-1.58],"nice":false,"zero":false},
        "axis":{"title":"Proportion of reads mapped (panDB)","labelPadding":0,"titlePadding":1,"values":[-4.5,-4,-3.5,-3,-2.5,-2],"labelExpr":"datum.value % 1 == 0 ? '1E' + datum.value : ''","grid":true,"gridColor":"#e6e6e6","gridWidth":{"condition":{"test":"datum.value % 1 != 0","value":0.5},"value":0.9},"tickOpacity":{"condition":{"test":"datum.value % 1 != 0","value":0},"value":1}}},
      "y":{"field":"y","type":"quantitative","scale":{"domain":[-6.24,-0.75],"nice":false,"zero":false},
        "axis":{"title":"Proportion of reads mapped (Standard)","values":[-6,-5,-4,-3,-2,-1],"labelExpr":"datum.value % 2 != 0 ? '1E' + datum.value : ''","grid":true,"gridColor":"#e6e6e6","gridWidth":{"condition":{"test":"datum.value % 2 == 0","value":0.5},"value":0.9},"tickOpacity":{"condition":{"test":"datum.value % 2 == 0","value":0},"value":1}}}
     }},
    {"width":131,"height":167,"data":{"name":"b3"},
     "mark":{"type":"circle","size":5,"color":"#000","opacity":1},
     "encoding":{
      "x":{"field":"x","type":"quantitative","scale":{"domain":[-4.61,-1.82],"nice":false,"zero":false},
        "axis":{"title":"Proportion of reads mapped (panDB)","labelPadding":0,"titlePadding":1,"values":[-4.5,-4,-3.5,-3,-2.5,-2],"labelExpr":"datum.value % 1 == 0 ? '1E' + datum.value : ''","grid":true,"gridColor":"#e6e6e6","gridWidth":{"condition":{"test":"datum.value % 1 != 0","value":0.5},"value":0.9},"tickOpacity":{"condition":{"test":"datum.value % 1 != 0","value":0},"value":1}}},
      "y":{"field":"y","type":"quantitative","scale":{"domain":[-6.25,-0.74],"nice":false,"zero":false},
        "axis":{"title":"Proportion of reads mapped (reprDB)","values":[-6,-5,-4,-3,-2,-1],"labelExpr":"datum.value % 2 != 0 ? '1E' + datum.value : ''","grid":true,"gridColor":"#e6e6e6","gridWidth":{"condition":{"test":"datum.value % 2 == 0","value":0.5},"value":0.9},"tickOpacity":{"condition":{"test":"datum.value % 2 == 0","value":0},"value":1}}}
     }}
   ]
  }
 ],"spacing":25.5},
 {"title":{"text":"c"},
  "spacing":-8.5,
  "resolve":{"scale":{"color":"independent"}},
  "hconcat":[
   {"title":{"text":"CAMI1","fontSize":7.5,"anchor":"middle","frame":"group","offset":0},"width":58,"height":229,"view":{"stroke":"#222","strokeWidth":1.8},"data":{"name":"bars"},"transform":[{"filter":"datum.p == 'CAMI1'"}],
    "mark":{"type":"bar","stroke":"white","strokeWidth":0.2},
    "encoding":{
     "x":{"field":"db","type":"nominal","sort":["Standard","reprDB","panDB"],"scale":{"paddingInner":0.08,"paddingOuter":0.12},"axis":{"title":null,"labelAngle":-90,"labelPadding":2}},
     "y":{"field":"v","type":"quantitative","stack":"zero","scale":{"domain":[-0.05,1.07],"nice":false,"zero":false},"axis":{"title":"Proportion of aligned reads","titlePadding":0,"labelPadding":0.5,"tickSize":2.5,"labelFontSize":8,"values":[0,0.2,0.4,0.6,0.8,1],"format":".1f"}},
     "color":{"field":"g","type":"nominal","scale":{"domain":["Acidovorax","Acinetobacter","Arthrobacter","Bacillus","Bosea","Caulobacter","Desulfovibrio","Ensifer","Frigoribacterium","Leifsonia","Lysobacter","Mesorhizobium","Methylobacterium","Microbacterium","Nocardioides","Paenibacillus","Pseudomonas","Rhizobium","Sphingomonas","Streptomyces","Other","Unmapped"],"range":["#E41A1C","#A24057","#606693","#3A85AE","#43987E","#4BAA55","#629363","#7F6E85","#9D509B","#C4635D","#EB761F","#FF970A","#FFC81D","#FFF931","#E1C72F","#BF862B","#AE5A36","#CD6A70","#EB7BA9","#E187B6","#999999","#000000"]},"legend":{}},
     "order":{"field":"k","type":"quantitative","sort":"descending"}}},
   {"title":{"text":"CAMI2","fontSize":7.5,"anchor":"middle","frame":"group","offset":0},"width":58,"height":229,"view":{"stroke":"#222","strokeWidth":1.8},"data":{"name":"bars"},"transform":[{"filter":"datum.p == 'CAMI2'"}],
    "mark":{"type":"bar","stroke":"white","strokeWidth":0.2},
    "encoding":{
     "x":{"field":"db","type":"nominal","sort":["Standard","reprDB","panDB"],"scale":{"paddingInner":0.08,"paddingOuter":0.12},"axis":{"title":null,"labelAngle":-90,"labelPadding":2}},
     "y":{"field":"v","type":"quantitative","stack":"zero","scale":{"domain":[-0.05,1.07],"nice":false,"zero":false},"axis":{"title":null,"labelPadding":0.5,"tickSize":2.5,"labelFontSize":8,"values":[0,0.2,0.4,0.6,0.8,1],"format":".1f"}},
     "color":{"field":"g","type":"nominal","scale":{"domain":["Acidovorax","Agromyces","Arthrobacter","Bacillus","Bosea","Caulobacter","Desulfococcus","Desulfovibrio","Ensifer","Frigoribacterium","Lysobacter","Mesorhizobium","Methylobacterium","Microbacterium","Nocardioides","Pelomonas","Pseudomonas","Rhizobium","Sphingomonas","Streptomyces","Other","Unmapped"],"range":["#E41A1C","#A24057","#606693","#3A85AE","#43987E","#4BAA55","#629363","#7F6E85","#9D509B","#C4635D","#EB761F","#FF970A","#FFC81D","#FFF931","#E1C72F","#BF862B","#AE5A36","#CD6A70","#EB7BA9","#E187B6","#999999","#000000"]},"legend":{}},
     "order":{"field":"k","type":"quantitative","sort":"descending"}}},
   {"title":{"text":"CAMI3","fontSize":7.5,"anchor":"middle","frame":"group","offset":0},"width":58,"height":229,"view":{"stroke":"#222","strokeWidth":1.8},"data":{"name":"bars"},"transform":[{"filter":"datum.p == 'CAMI3'"}],
    "mark":{"type":"bar","stroke":"white","strokeWidth":0.2},
    "encoding":{
     "x":{"field":"db","type":"nominal","sort":["Standard","reprDB","panDB"],"scale":{"paddingInner":0.08,"paddingOuter":0.12},"axis":{"title":null,"labelAngle":-90,"labelPadding":2}},
     "y":{"field":"v","type":"quantitative","stack":"zero","scale":{"domain":[-0.05,1.07],"nice":false,"zero":false},"axis":{"title":null,"labelPadding":0.5,"tickSize":2.5,"labelFontSize":8,"values":[0,0.2,0.4,0.6,0.8,1],"format":".1f"}},
     "color":{"field":"g","type":"nominal","scale":{"domain":["Acidovorax","Arthrobacter","Bacillus","Caulobacter","Desulfovibrio","Ensifer","Frigoribacterium","Lysobacter","Mesorhizobium","Methylobacterium","Microbacterium","Mycobacterium","Nocardia","Nocardioides","Paenibacillus","Pseudomonas","Rhizobium","Sphingomonas","Streptomyces","Xanthomonas","Other","Unmapped"],"range":["#E41A1C","#A24057","#606693","#3A85AE","#43987E","#4BAA55","#629363","#7F6E85","#9D509B","#C4635D","#EB761F","#FF970A","#FFC81D","#FFF931","#E1C72F","#BF862B","#AE5A36","#CD6A70","#EB7BA9","#E187B6","#999999","#000000"]},"legend":{}},
     "order":{"field":"k","type":"quantitative","sort":"descending"}}},
   {"title":{"text":"CAMI4","fontSize":7.5,"anchor":"middle","frame":"group","offset":0},"width":58,"height":229,"view":{"stroke":"#222","strokeWidth":1.8},"data":{"name":"bars"},"transform":[{"filter":"datum.p == 'CAMI4'"}],
    "mark":{"type":"bar","stroke":"white","strokeWidth":0.2},
    "encoding":{
     "x":{"field":"db","type":"nominal","sort":["Standard","reprDB","panDB"],"scale":{"paddingInner":0.08,"paddingOuter":0.12},"axis":{"title":null,"labelAngle":-90,"labelPadding":2}},
     "y":{"field":"v","type":"quantitative","stack":"zero","scale":{"domain":[-0.05,1.07],"nice":false,"zero":false},"axis":{"title":null,"labelPadding":0.5,"tickSize":2.5,"labelFontSize":8,"values":[0,0.2,0.4,0.6,0.8,1],"format":".1f"}},
     "color":{"field":"g","type":"nominal","scale":{"domain":["Acidovorax","Agromyces","Arthrobacter","Bacillus","Caulobacter","Desulfovibrio","Ensifer","Frigoribacterium","Lysobacter","Mesorhizobium","Methylobacterium","Microbacterium","Mycobacterium","Nocardioides","Paenibacillus","Pseudomonas","Rhizobium","Sphingomonas","Streptomyces","Xanthomonas","Other","Unmapped"],"range":["#E41A1C","#A24057","#606693","#3A85AE","#43987E","#4BAA55","#629363","#7F6E85","#9D509B","#C4635D","#EB761F","#FF970A","#FFC81D","#FFF931","#E1C72F","#BF862B","#AE5A36","#CD6A70","#EB7BA9","#E187B6","#999999","#000000"]},"legend":{}},
     "order":{"field":"k","type":"quantitative","sort":"descending"}}},
   {"title":{"text":"CAMI5","fontSize":7.5,"anchor":"middle","frame":"group","offset":0},"width":58,"height":229,"view":{"stroke":"#222","strokeWidth":1.8},"data":{"name":"bars"},"transform":[{"filter":"datum.p == 'CAMI5'"}],
    "mark":{"type":"bar","stroke":"white","strokeWidth":0.2},
    "encoding":{
     "x":{"field":"db","type":"nominal","sort":["Standard","reprDB","panDB"],"scale":{"paddingInner":0.08,"paddingOuter":0.12},"axis":{"title":null,"labelAngle":-90,"labelPadding":2}},
     "y":{"field":"v","type":"quantitative","stack":"zero","scale":{"domain":[-0.05,1.07],"nice":false,"zero":false},"axis":{"title":null,"labelPadding":0.5,"tickSize":2.5,"labelFontSize":8,"values":[0,0.2,0.4,0.6,0.8,1],"format":".1f"}},
     "color":{"field":"g","type":"nominal","scale":{"domain":["Acidovorax","Arthrobacter","Bacillus","Caulobacter","Desulfovibrio","Ensifer","Lysobacter","Mesorhizobium","Methylobacterium","Microbacterium","Mycobacterium","Nocardia","Nocardioides","Paenibacillus","Pseudomonas","Rhizobium","Rhodococcus","Sphingomonas","Streptomyces","Xanthomonas","Other","Unmapped"],"range":["#E41A1C","#A24057","#606693","#3A85AE","#43987E","#4BAA55","#629363","#7F6E85","#9D509B","#C4635D","#EB761F","#FF970A","#FFC81D","#FFF931","#E1C72F","#BF862B","#AE5A36","#CD6A70","#EB7BA9","#E187B6","#999999","#000000"]},"legend":{}},
     "order":{"field":"k","type":"quantitative","sort":"descending"}}}
  ]
 }
]
}
